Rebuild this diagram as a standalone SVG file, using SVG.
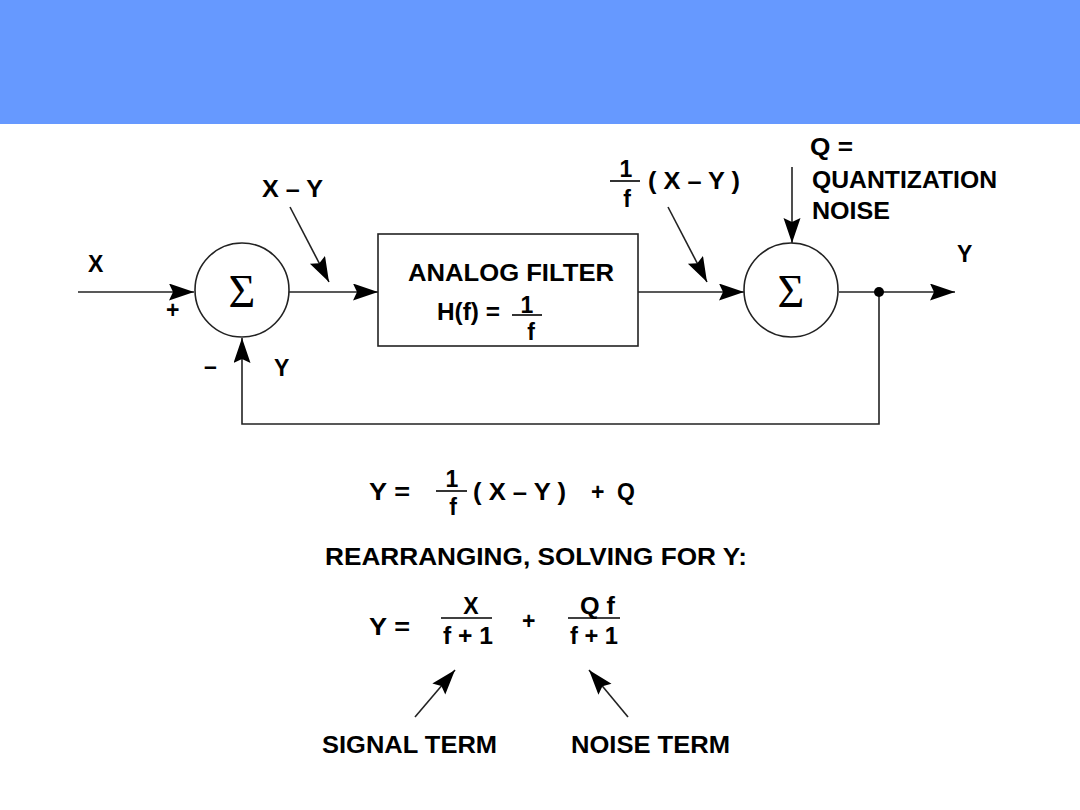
<svg xmlns="http://www.w3.org/2000/svg" width="1080" height="810" viewBox="0 0 1080 810">
<style>
.t{font-family:"Liberation Sans",Arial,sans-serif;font-weight:bold;font-size:23px;fill:#000}
.s{font-family:"Liberation Serif","Times New Roman",serif;font-size:46px;fill:#000}
.ln{stroke:#222;stroke-width:1.6;fill:none}
.fr{stroke:#000;stroke-width:1.6}
.nd{fill:#fff;stroke:#222;stroke-width:1.6}
</style>
<defs>
<marker id="ah" markerUnits="userSpaceOnUse" markerWidth="27" markerHeight="18" refX="25" refY="8.5" orient="auto">
<path d="M0,0 L25,8.5 L0,17 L4,8.5 Z" fill="#000"/>
</marker>
</defs>
<rect x="0" y="0" width="1080" height="124" fill="#6699FF"/>
<g id="connectors">
<line class="ln" x1="78" y1="292" x2="194" y2="292" marker-end="url(#ah)"/>
<line class="ln" x1="289" y1="292" x2="378" y2="292" marker-end="url(#ah)"/>
<line class="ln" x1="638" y1="292" x2="744" y2="292" marker-end="url(#ah)"/>
<line class="ln" x1="839" y1="292" x2="955" y2="292" marker-end="url(#ah)"/>
<polyline class="ln" points="879,292 879,424 242,424 242,338" marker-end="url(#ah)"/>
<circle cx="879" cy="292" r="5" fill="#000"/>
<line class="ln" x1="792" y1="167" x2="792" y2="243" marker-end="url(#ah)"/>
<line class="ln" x1="290" y1="207" x2="329" y2="282" marker-end="url(#ah)"/>
<line class="ln" x1="668" y1="207" x2="707" y2="282" marker-end="url(#ah)"/>
<line class="ln" x1="415" y1="717" x2="455" y2="670" marker-end="url(#ah)"/>
<line class="ln" x1="628" y1="717" x2="589" y2="670" marker-end="url(#ah)"/>
</g>
<g id="sum1">
<circle class="nd" cx="242" cy="290" r="47"/>
<text class="s" x="242" y="307" text-anchor="middle">Σ</text>
</g>
<g id="filter">
<rect class="nd" x="378" y="234" width="260" height="112"/>
<text class="t" x="408" y="281" textLength="206" lengthAdjust="spacingAndGlyphs">ANALOG FILTER</text>
<text class="t" x="437" y="320" textLength="63" lengthAdjust="spacingAndGlyphs">H(f) =</text>
<text class="t" x="527" y="313" text-anchor="middle">1</text>
<line class="fr" x1="512" y1="315" x2="542" y2="315"/>
<text class="t" x="531" y="340" text-anchor="middle">f</text>
</g>
<g id="sum2">
<circle class="nd" cx="791" cy="290" r="47"/>
<text class="s" x="791" y="307" text-anchor="middle">Σ</text>
</g>
<g id="labels">
<text class="t" x="88" y="272">X</text>
<text class="t" x="166" y="318" font-size="18">+</text>
<text class="t" x="204" y="374" font-size="18">–</text>
<text class="t" x="274" y="376">Y</text>
<text class="t" x="262" y="197" textLength="61" lengthAdjust="spacingAndGlyphs">X – Y</text>
<text class="t" x="626" y="177" text-anchor="middle">1</text>
<line class="fr" x1="610" y1="181" x2="640" y2="181"/>
<text class="t" x="627" y="207" text-anchor="middle">f</text>
<text class="t" x="648" y="189" textLength="92" lengthAdjust="spacingAndGlyphs">( X – Y )</text>
<text class="t" x="810" y="155" textLength="43" lengthAdjust="spacingAndGlyphs">Q =</text>
<text class="t" x="812" y="188" textLength="185" lengthAdjust="spacingAndGlyphs">QUANTIZATION</text>
<text class="t" x="812" y="219" textLength="78" lengthAdjust="spacingAndGlyphs">NOISE</text>
<text class="t" x="957" y="262">Y</text>
</g>
<g id="equations">
<text class="t" x="369" y="500" textLength="41" lengthAdjust="spacingAndGlyphs">Y =</text>
<text class="t" x="452" y="487" text-anchor="middle">1</text>
<line class="fr" x1="436" y1="491" x2="467" y2="491"/>
<text class="t" x="453" y="515" text-anchor="middle">f</text>
<text class="t" x="473" y="500" textLength="93" lengthAdjust="spacingAndGlyphs">( X – Y )</text>
<text class="t" x="591" y="500">+</text>
<text class="t" x="617" y="500">Q</text>
<text class="t" x="325" y="565" textLength="422" lengthAdjust="spacingAndGlyphs">REARRANGING, SOLVING FOR Y:</text>
<text class="t" x="369" y="635" textLength="41" lengthAdjust="spacingAndGlyphs">Y =</text>
<text class="t" x="471" y="614" text-anchor="middle">X</text>
<line class="fr" x1="441" y1="618" x2="492" y2="618"/>
<text class="t" x="443" y="644" textLength="50" lengthAdjust="spacingAndGlyphs">f + 1</text>
<text class="t" x="522" y="629">+</text>
<text class="t" x="580" y="614" textLength="35" lengthAdjust="spacingAndGlyphs">Q f</text>
<line class="fr" x1="568" y1="618" x2="620" y2="618"/>
<text class="t" x="570" y="644" textLength="48" lengthAdjust="spacingAndGlyphs">f + 1</text>
<text class="t" x="322" y="753" textLength="175" lengthAdjust="spacingAndGlyphs">SIGNAL TERM</text>
<text class="t" x="571" y="753" textLength="159" lengthAdjust="spacingAndGlyphs">NOISE TERM</text>
</g>
</svg>
